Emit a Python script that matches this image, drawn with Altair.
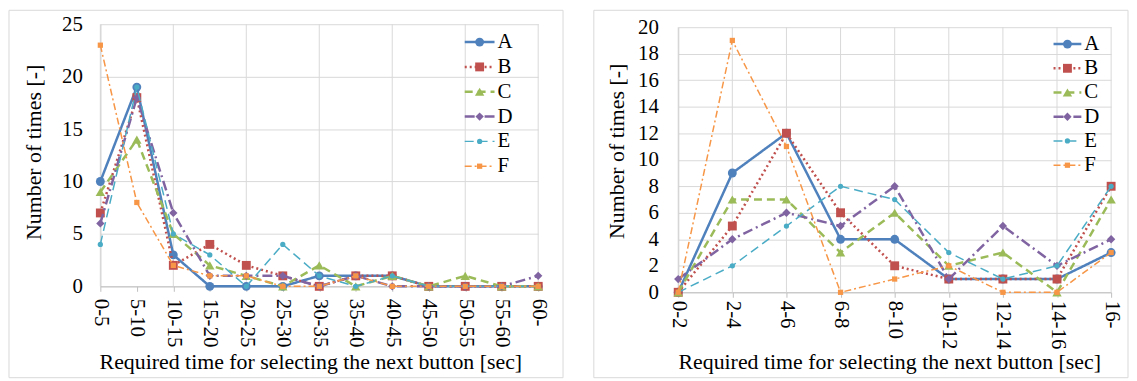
import altair as alt
import pandas as pd

FONT = "serif"
SERIES = ["A", "B", "C", "D", "E", "F"]

LEFT_CATS = ["0-5", "5-10", "10-15", "15-20", "20-25", "25-30", "30-35",
             "35-40", "40-45", "45-50", "50-55", "55-60", "60-"]
LEFT_A = [10, 19, 3, 0, 0, 0, 1, 1, 1, 0, 0, 0, 0]
LEFT_B = [7, 18, 2, 4, 2, 1, 0, 1, 1, 0, 0, 0, 0]
LEFT_C = [9, 14, 5, 2, 1, 0, 2, 0, 1, 0, 1, 0, 0]
LEFT_D = [6, 18, 7, 1, 1, 1, 0, 1, 0, 0, 0, 0, 1]
LEFT_E = [4, 19, 5, 3, 0, 4, 1, 0, 1, 0, 0, 0, 0]
LEFT_F = [23, 8, 2, 1, 1, 0, 0, 1, 0, 0, 0, 0, 0]
LEFT_Y_TICKS = [0, 5, 10, 15, 20, 25]
LEFT_GRID_CATS = LEFT_CATS[::2]

RIGHT_CATS = ["0-2", "2-4", "4-6", "6-8", "8-10", "10-12", "12-14", "14-16", "16-"]
RIGHT_A = [0, 9, 12, 4, 4, 1, 1, 1, 3]
RIGHT_B = [0, 5, 12, 6, 2, 1, 1, 1, 8]
RIGHT_C = [0, 7, 7, 3, 6, 2, 3, 0, 7]
RIGHT_D = [1, 4, 6, 5, 8, 1, 5, 2, 4]
RIGHT_E = [0, 2, 5, 8, 7, 3, 1, 2, 8]
RIGHT_F = [0, 19, 11, 0, 1, 2, 0, 0, 3]
RIGHT_Y_TICKS = [0, 2, 4, 6, 8, 10, 12, 14, 16, 18, 20]
RIGHT_GRID_CATS = RIGHT_CATS

X_TITLE = "Required time for selecting the next button [sec]"
Y_TITLE = "Number of times [-]"

COLORS = ["#4F81BD", "#C0504D", "#9BBB59", "#8064A2", "#4BACC6", "#F79646"]
DASHES = [[1, 0], [2, 3], [8, 5], [10, 4, 2, 4], [9, 5], [7, 3, 2, 3]]
WIDTHS = [2.5, 2.5, 2.5, 2.5, 1.5, 1.5]
SHAPES = ["circle", "square", "triangle-up", "diamond", "circle", "square"]
SIZES = [80, 80, 90, 70, 28, 28]

GRID = "#d9d9d9"
AXC = "#bfbfbf"
FRAME = "#d9d9d9"


def panel(cats, vals, yticks, grid_cats, width, height, ytop,
          lab_pad_x, lab_pad_y, frame, leg, titles):
    xscale = alt.Scale(type="point", domain=cats, padding=0)
    yscale = alt.Scale(domain=[yticks[0], yticks[-1]], range=[height, ytop], nice=False)
    xaxis = alt.Axis(title="", labelAngle=90, labelAlign="left", labelBaseline="middle",
                     labelPadding=lab_pad_x, tickSize=5, tickColor=AXC, domainColor=AXC,
                     grid=False, labelFontSize=21, labelFont=FONT, labelColor="black")
    yaxis = alt.Axis(title="", values=yticks, grid=True, gridColor=GRID, ticks=False,
                     domainColor=AXC, labelPadding=lab_pad_y,
                     labelFontSize=21, labelFont=FONT, labelColor="black")

    fx0, fx1, fy0, fy1 = frame
    frame_layer = alt.Chart(pd.DataFrame({"f": [0]})).mark_rect(
        fillOpacity=0, stroke=FRAME, strokeWidth=1
    ).encode(x=alt.value(fx0), x2=alt.value(fx1), y=alt.value(fy0), y2=alt.value(fy1))

    txx, txy, tyx, tyy = titles
    xtitle_layer = alt.Chart(pd.DataFrame({"t": [X_TITLE]})).mark_text(
        font=FONT, fontSize=22, color="black", align="center", baseline="middle"
    ).encode(x=alt.value(txx), y=alt.value(txy), text="t:N")
    ytitle_layer = alt.Chart(pd.DataFrame({"t": [Y_TITLE]})).mark_text(
        font=FONT, fontSize=22, color="black", align="center", baseline="middle", angle=270
    ).encode(x=alt.value(tyx), y=alt.value(tyy), text="t:N")

    grid_layer = alt.Chart(pd.DataFrame({"cat": grid_cats})).mark_rule(
        color=GRID, strokeWidth=1
    ).encode(x=alt.X("cat:N", scale=xscale, axis=xaxis), y=alt.value(ytop), y2=alt.value(height))

    layers = [grid_layer]
    for i, s in enumerate(SERIES):
        df = pd.DataFrame({"cat": cats, "v": vals[i], "idx": list(range(len(cats)))})
        base = alt.Chart(df)
        line = base.mark_line(color=COLORS[i], strokeDash=DASHES[i], strokeWidth=WIDTHS[i]).encode(
            x=alt.X("cat:N", scale=xscale, axis=xaxis),
            y=alt.Y("v:Q", scale=yscale, axis=yaxis),
            order=alt.Order("idx:Q"),
        )
        pts = base.mark_point(shape=SHAPES[i], filled=True, size=SIZES[i], color=COLORS[i], opacity=1).encode(
            x=alt.X("cat:N", scale=xscale, axis=xaxis),
            y=alt.Y("v:Q", scale=yscale, axis=yaxis),
        )
        layers += [line, pts]
    data_layer = alt.layer(*layers)

    lx0, lx1, lpx, ltx, ly0, ly1 = leg
    lyenc = alt.Y("s:N", scale=alt.Scale(type="point", domain=SERIES, range=[ly0, ly1], padding=0), axis=None)
    leg_layers = []
    for i, s in enumerate(SERIES):
        d = alt.Chart(pd.DataFrame({"s": [s]}))
        leg_layers.append(d.mark_rule(color=COLORS[i], strokeDash=DASHES[i], strokeWidth=WIDTHS[i]).encode(
            x=alt.value(lx0), x2=alt.value(lx1), y=lyenc))
        leg_layers.append(d.mark_point(shape=SHAPES[i], filled=True, size=SIZES[i], color=COLORS[i], opacity=1).encode(
            x=alt.value(lpx), y=lyenc))
        leg_layers.append(d.mark_text(align="left", baseline="middle", font=FONT, fontSize=21, color="black").encode(
            x=alt.value(ltx), y=lyenc, text="s:N"))
    legend_layer = alt.layer(*leg_layers)

    return alt.layer(frame_layer, xtitle_layer, ytitle_layer, data_layer, legend_layer).resolve_scale(
        y="independent").properties(width=width, height=height)


left = panel(LEFT_CATS, [LEFT_A, LEFT_B, LEFT_C, LEFT_D, LEFT_E, LEFT_F], LEFT_Y_TICKS, LEFT_GRID_CATS,
             441, 264, 0, 7, 18, (-92, 466, -14, 356), (367, 397, 382, 400, 18, 143),
             (212, 340, -67, 129))
right = panel(RIGHT_CATS, [RIGHT_A, RIGHT_B, RIGHT_C, RIGHT_D, RIGHT_E, RIGHT_F], RIGHT_Y_TICKS, RIGHT_GRID_CATS,
              436, 270, 3, 3, 20, (-85, 453, -14, 356), (378, 406, 392, 409, 20, 142),
              (213, 340, -62, 128))

chart = alt.hconcat(left, right, spacing=141, bounds="flush").properties(padding=0).configure_view(
    strokeWidth=0
)

chart.save("out.html", embed_options={"renderer": "svg", "actions": False})
